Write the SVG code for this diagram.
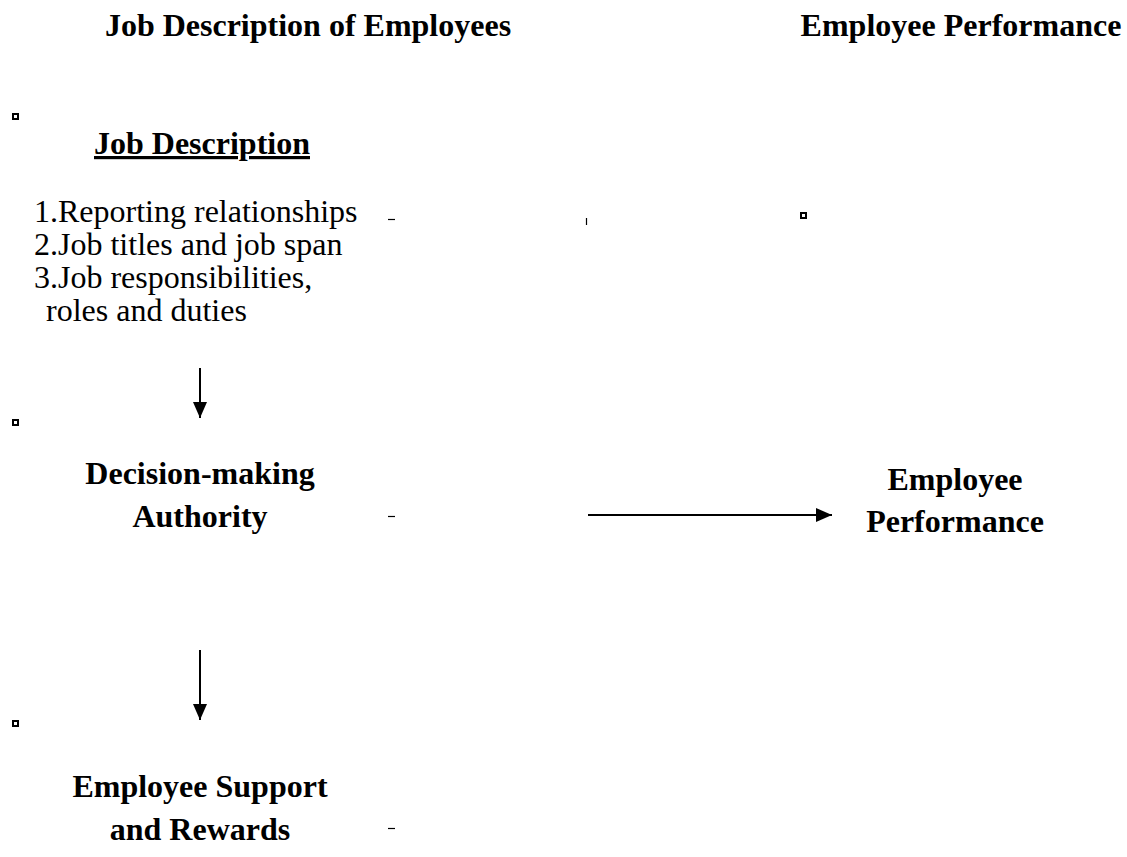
<svg xmlns="http://www.w3.org/2000/svg" width="1127" height="857" viewBox="0 0 1127 857">
  <style>
    .t { font-family: "Liberation Serif", "Times New Roman", serif; fill: #000; }
    .b { font-weight: bold; font-size: 32px; }
    .r { font-size: 32px; }
    .mark { fill: #fff; stroke: #000; stroke-width: 2; }
    .tick { stroke: #000; stroke-width: 1.2; }
    .edge { stroke: #000; stroke-width: 2; fill: none; marker-end: url(#head); }
  </style>
  <defs>
    <marker id="head" viewBox="0 0 16 14" refX="16" refY="7" markerWidth="16" markerHeight="14" markerUnits="userSpaceOnUse" orient="auto">
      <path d="M0,0 L16,7 L0,14 Z" fill="#000"/>
    </marker>
  </defs>
  <rect width="1127" height="857" fill="#fff"/>

  <!-- column headings -->
  <g id="headings">
    <text class="t b" x="308" y="36" text-anchor="middle">Job Description of Employees</text>
    <text class="t b" x="961" y="36" text-anchor="middle">Employee Performance</text>
  </g>

  <!-- bullet marks and stray ticks -->
  <g id="marks">
    <rect class="mark" x="13" y="114" width="5" height="5"/>
    <rect class="mark" x="13" y="420" width="5" height="5"/>
    <rect class="mark" x="13" y="721" width="5" height="5"/>
    <rect class="mark" x="801" y="213" width="5" height="5"/>
    <line class="tick" x1="388" y1="219.5" x2="395" y2="219.5"/>
    <line class="tick" x1="586.5" y1="218" x2="586.5" y2="225"/>
    <line class="tick" x1="388" y1="516.5" x2="395" y2="516.5"/>
    <line class="tick" x1="388" y1="828.5" x2="395" y2="828.5"/>
  </g>

  <g id="job-description">
    <text class="t b" x="202" y="154" text-anchor="middle" text-decoration="underline">Job Description</text>
    <text class="t r" x="34" y="222">1.Reporting relationships</text>
    <text class="t r" x="34" y="255">2.Job titles and job span</text>
    <text class="t r" x="34" y="288">3.Job responsibilities,</text>
    <text class="t r" x="46" y="321">roles and duties</text>
  </g>

  <g id="decision-making">
    <text class="t b" x="200" y="484" text-anchor="middle">Decision-making</text>
    <text class="t b" x="200" y="527" text-anchor="middle">Authority</text>
  </g>

  <g id="support-rewards">
    <text class="t b" x="200" y="797" text-anchor="middle">Employee Support</text>
    <text class="t b" x="200" y="840" text-anchor="middle">and Rewards</text>
  </g>

  <g id="performance">
    <text class="t b" x="955" y="490" text-anchor="middle">Employee</text>
    <text class="t b" x="955" y="532" text-anchor="middle">Performance</text>
  </g>

  <g id="connectors">
    <line class="edge" x1="200" y1="368" x2="200" y2="418"/>
    <line class="edge" x1="200" y1="650" x2="200" y2="720"/>
    <line class="edge" x1="588" y1="515" x2="832" y2="515"/>
  </g>
</svg>
